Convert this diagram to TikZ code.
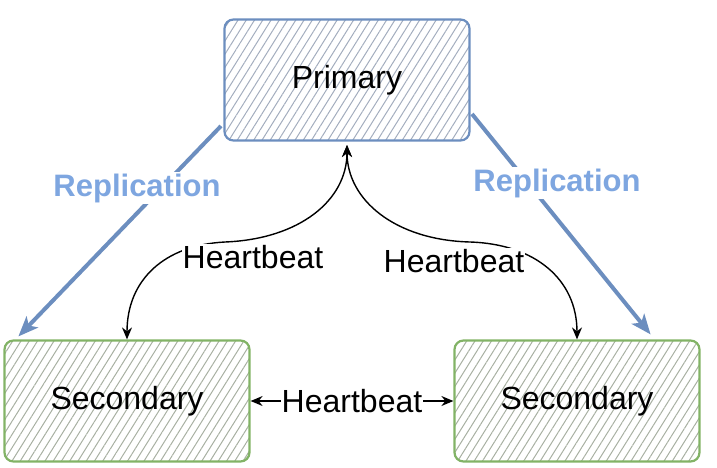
\documentclass[tikz,border=0pt]{standalone}
\usepackage{fontspec}
\setmainfont{Liberation Sans}
\usetikzlibrary{patterns.meta,arrows.meta,calc}
\definecolor{pblue}{HTML}{6C8EBF}
\definecolor{lblue}{HTML}{7EA6E0}
\definecolor{sgreen}{HTML}{82B366}
\definecolor{phatch}{HTML}{A3ADBE}
\definecolor{shatch}{HTML}{A8B0A2}
\tikzset{
  box/.style={rounded corners=9pt, line width=2.2pt, minimum width=245pt, minimum height=121pt,
    pattern={Lines[angle=58,distance=7pt,line width=1pt]},
    font=\fontsize{32}{36}\selectfont, inner sep=0pt},
  pbox/.style={box, draw=pblue, pattern color=phatch},
  sbox/.style={box, draw=sgreen, pattern color=shatch},
  hb/.style={line width=1.4pt, {Stealth[length=12pt,width=10pt]}-{Stealth[length=12pt,width=10pt]}},
  hblabel/.style={fill=white, inner sep=1pt, font=\fontsize{32}{36}\selectfont},
  rep/.style={line width=4pt, draw=pblue, -{Stealth[length=20pt,width=16pt,inset=5pt]}},
  replabel/.style={fill=white, inner sep=2pt, text=lblue, font=\fontsize{31}{35}\selectfont\bfseries}
}
\begin{document}
\begin{tikzpicture}[x=1pt,y=-1pt]
\useasboundingbox (0,0) rectangle (717,467);
\node[pbox] (P) at (347,80) {Primary};
\node[sbox] (L) at (127,401) {Secondary};
\node[sbox] (R) at (577,401) {Secondary};
% replication
\coordinate (ls) at ($(P.south west)+(-3,-15)$);
\coordinate (le) at ($(L.north west)+(15,-3)$);
\coordinate (rs) at ($(P.north east)+(2,95)$);
\coordinate (re) at ($(R.north east)+(-50,-5)$);
\draw[rep] (ls) -- (le);
\draw[rep] (rs) -- (re);
\node[replabel] (RL) at (137,188) {Replication};
\node[replabel] (RR) at (557,183) {Replication};
% heartbeats
\coordinate (hl) at (225,242);
\coordinate (hr) at (470,242);
\draw[hb] (L.north) .. controls +(0,-60) and +(-60,3) .. (hl) .. controls +(75,-3) and +(0,55) .. ($(P.south)+(0,4)$);
\draw[hb] ($(P.south)+(0,4)$) .. controls +(0,55) and +(-75,-2) .. (hr) .. controls +(65,2) and +(0,-60) .. (R.north);
\node[hblabel] (HL) at (253,257) {Heartbeat};
\node[hblabel] (HR) at (454,261) {Heartbeat};
\draw[hb] (L.east) -- (R.east -| R.west) node[hblabel, midway] (HB) {Heartbeat};
\end{tikzpicture}
\end{document}
